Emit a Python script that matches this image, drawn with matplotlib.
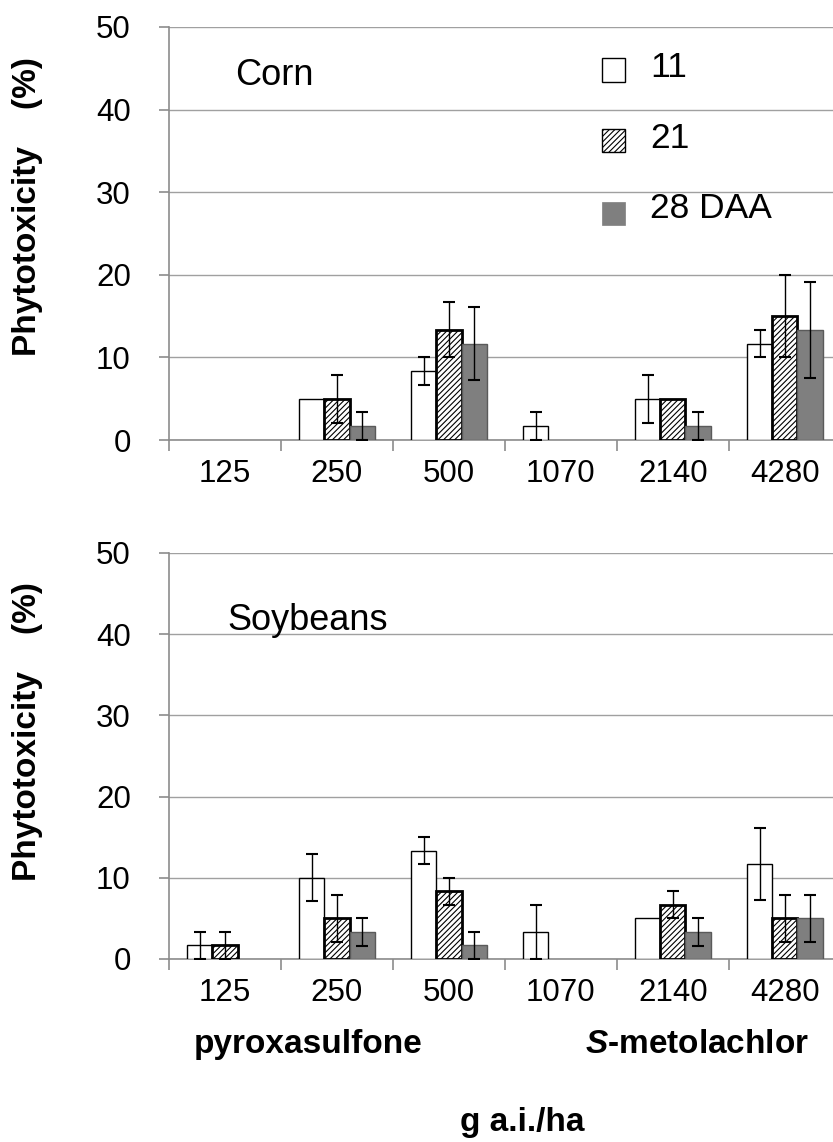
import numpy as np
import matplotlib
matplotlib.use("Agg")
import matplotlib.pyplot as plt
from matplotlib.patches import Rectangle

plt.rcParams['font.family'] = ['Liberation Sans', 'DejaVu Sans']
plt.rcParams['mathtext.fontset'] = 'custom'
plt.rcParams['mathtext.bfit'] = 'Liberation Sans:italic:bold'
plt.rcParams['hatch.linewidth'] = 0.8
plt.rcParams['hatch.color'] = '#333333'

doses = ['125', '250', '500', '1070', '2140', '4280']
series = ['11', '21', '28 DAA']
nan = np.nan

# corn, days after application 11 / 21 / 28
corn_11 = [0, 5, 8.33, 1.67, 5, 11.67]
corn_11_err = [nan, nan, 1.67, 1.67, 2.89, 1.67]
corn_21 = [0, 5, 13.33, 0, 5, 15]
corn_21_err = [nan, 2.89, 3.33, nan, nan, 5]
corn_28 = [0, 1.67, 11.67, 0, 1.67, 13.33]
corn_28_err = [nan, 1.67, 4.41, nan, 1.67, 5.77]

# soybeans
soy_11 = [1.67, 10, 13.33, 3.33, 5, 11.67]
soy_11_err = [1.67, 2.89, 1.67, 3.33, nan, 4.41]
soy_21 = [1.67, 5, 8.33, 0, 6.67, 5]
soy_21_err = [1.67, 2.89, 1.67, nan, 1.67, 2.89]
soy_28 = [0, 3.33, 1.67, 0, 3.33, 5]
soy_28_err = [nan, 1.67, 1.67, nan, 1.67, 2.89]

styles = [
    dict(facecolor='white', edgecolor='black', linewidth=1.0),
    dict(facecolor='white', edgecolor='black', linewidth=2.0, hatch='//////'),
    dict(facecolor='#7f7f7f', edgecolor='#5a5a5a', linewidth=1.0),
]
legend_styles = [
    dict(facecolor='white', edgecolor='black', linewidth=1.0),
    dict(facecolor='white', edgecolor='black', linewidth=1.0, hatch='//////'),
    dict(facecolor='#7f7f7f', edgecolor='#7f7f7f', linewidth=0.5),
]

W, H = 833, 1142
fig = plt.figure(figsize=(W / 100, H / 100), dpi=100)
left = 169 / W
aw = W - 169
ax1 = fig.add_axes([left, 1 - 440 / H, aw / W, (440 - 27) / H])
ax2 = fig.add_axes([left, 1 - 959 / H, aw / W, (959 - 553) / H])

x = np.arange(len(doses))
bw = 0.225
gray = '#8c8c8c'


def draw(ax, vals, errs, name, name_x, name_y, ylab_y):
    for i, (v, e) in enumerate(zip(vals, errs)):
        v = np.asarray(v, float)
        e = np.asarray(e, float)
        xs = x + (i - 1) * bw
        keep = v > 0
        ax.bar(xs[keep], v[keep], bw, zorder=3, **styles[i])
        ax.errorbar(xs, v, yerr=e, fmt='none', ecolor='black', elinewidth=1.0,
                    capsize=4.3, capthick=1.5, zorder=4)
    ax.set_xlim(-0.5, 5.43)
    ax.set_ylim(0, 50)
    ax.set_yticks(np.arange(0, 51, 10))
    ax.yaxis.grid(True, color='#a0a0a0', linewidth=1.0, zorder=0)
    ax.set_axisbelow(True)
    for s in ['top', 'right']:
        ax.spines[s].set_visible(False)
    for s in ['left', 'bottom']:
        ax.spines[s].set_color(gray)
        ax.spines[s].set_linewidth(1.2)
    ax.set_xticks(np.arange(-0.5, 5.0, 1.0))
    ax.set_xticklabels([])
    ax.set_xticks(x, doses, minor=True)
    ax.tick_params(axis='x', which='major', length=8, color=gray, width=1.2)
    ax.tick_params(axis='x', which='minor', length=0, pad=14, labelsize=22.5)
    ax.tick_params(axis='y', length=7.5, color=gray, width=1.2, pad=20, labelsize=22.5)
    ax.text((name_x - 169) / aw, name_y, name,
            transform=ax.transAxes, fontsize=26, va='baseline', ha='left')
    ax.text((28 - 169) / aw, ylab_y, 'Phytotoxicity    (%)', transform=ax.transAxes,
            rotation=90, fontsize=24, fontweight='bold', va='center', ha='center')


draw(ax1, [corn_11, corn_21, corn_28], [corn_11_err, corn_21_err, corn_28_err],
     'Corn', 235, (440 - 85) / 413, (440 - 207) / 413)
draw(ax2, [soy_11, soy_21, soy_28], [soy_11_err, soy_21_err, soy_28_err],
     'Soybeans', 227, (959 - 630) / 406, (959 - 732) / 406)

# legend drawn as squares + labels in the upper panel
sq_w, sq_h = 23 / aw, 23 / 413
for lab, st, cy, by in zip(series, legend_styles, [70, 140, 213], [77, 148, 218]):
    ax1.add_patch(Rectangle(((602 - 169) / aw, (440 - cy) / 413 - sq_h / 2), sq_w, sq_h,
                            transform=ax1.transAxes, zorder=5, **st))
    ax1.text((650 - 169) / aw, (440 - by) / 413, lab, transform=ax1.transAxes,
             fontsize=25.5, va='baseline', ha='left')

fig.text(308 / W, 1 - 1053 / H, 'pyroxasulfone', fontsize=24, fontweight='bold',
         ha='center', va='baseline')
fig.text(697 / W, 1 - 1053 / H, r'$\mathbfit{S}$-metolachlor', fontsize=24, fontweight='bold',
         ha='center', va='baseline')
fig.text(522 / W, 1 - 1131 / H, 'g a.i./ha', fontsize=24, fontweight='bold',
         ha='center', va='baseline')

fig.savefig('out.png', dpi=100)
